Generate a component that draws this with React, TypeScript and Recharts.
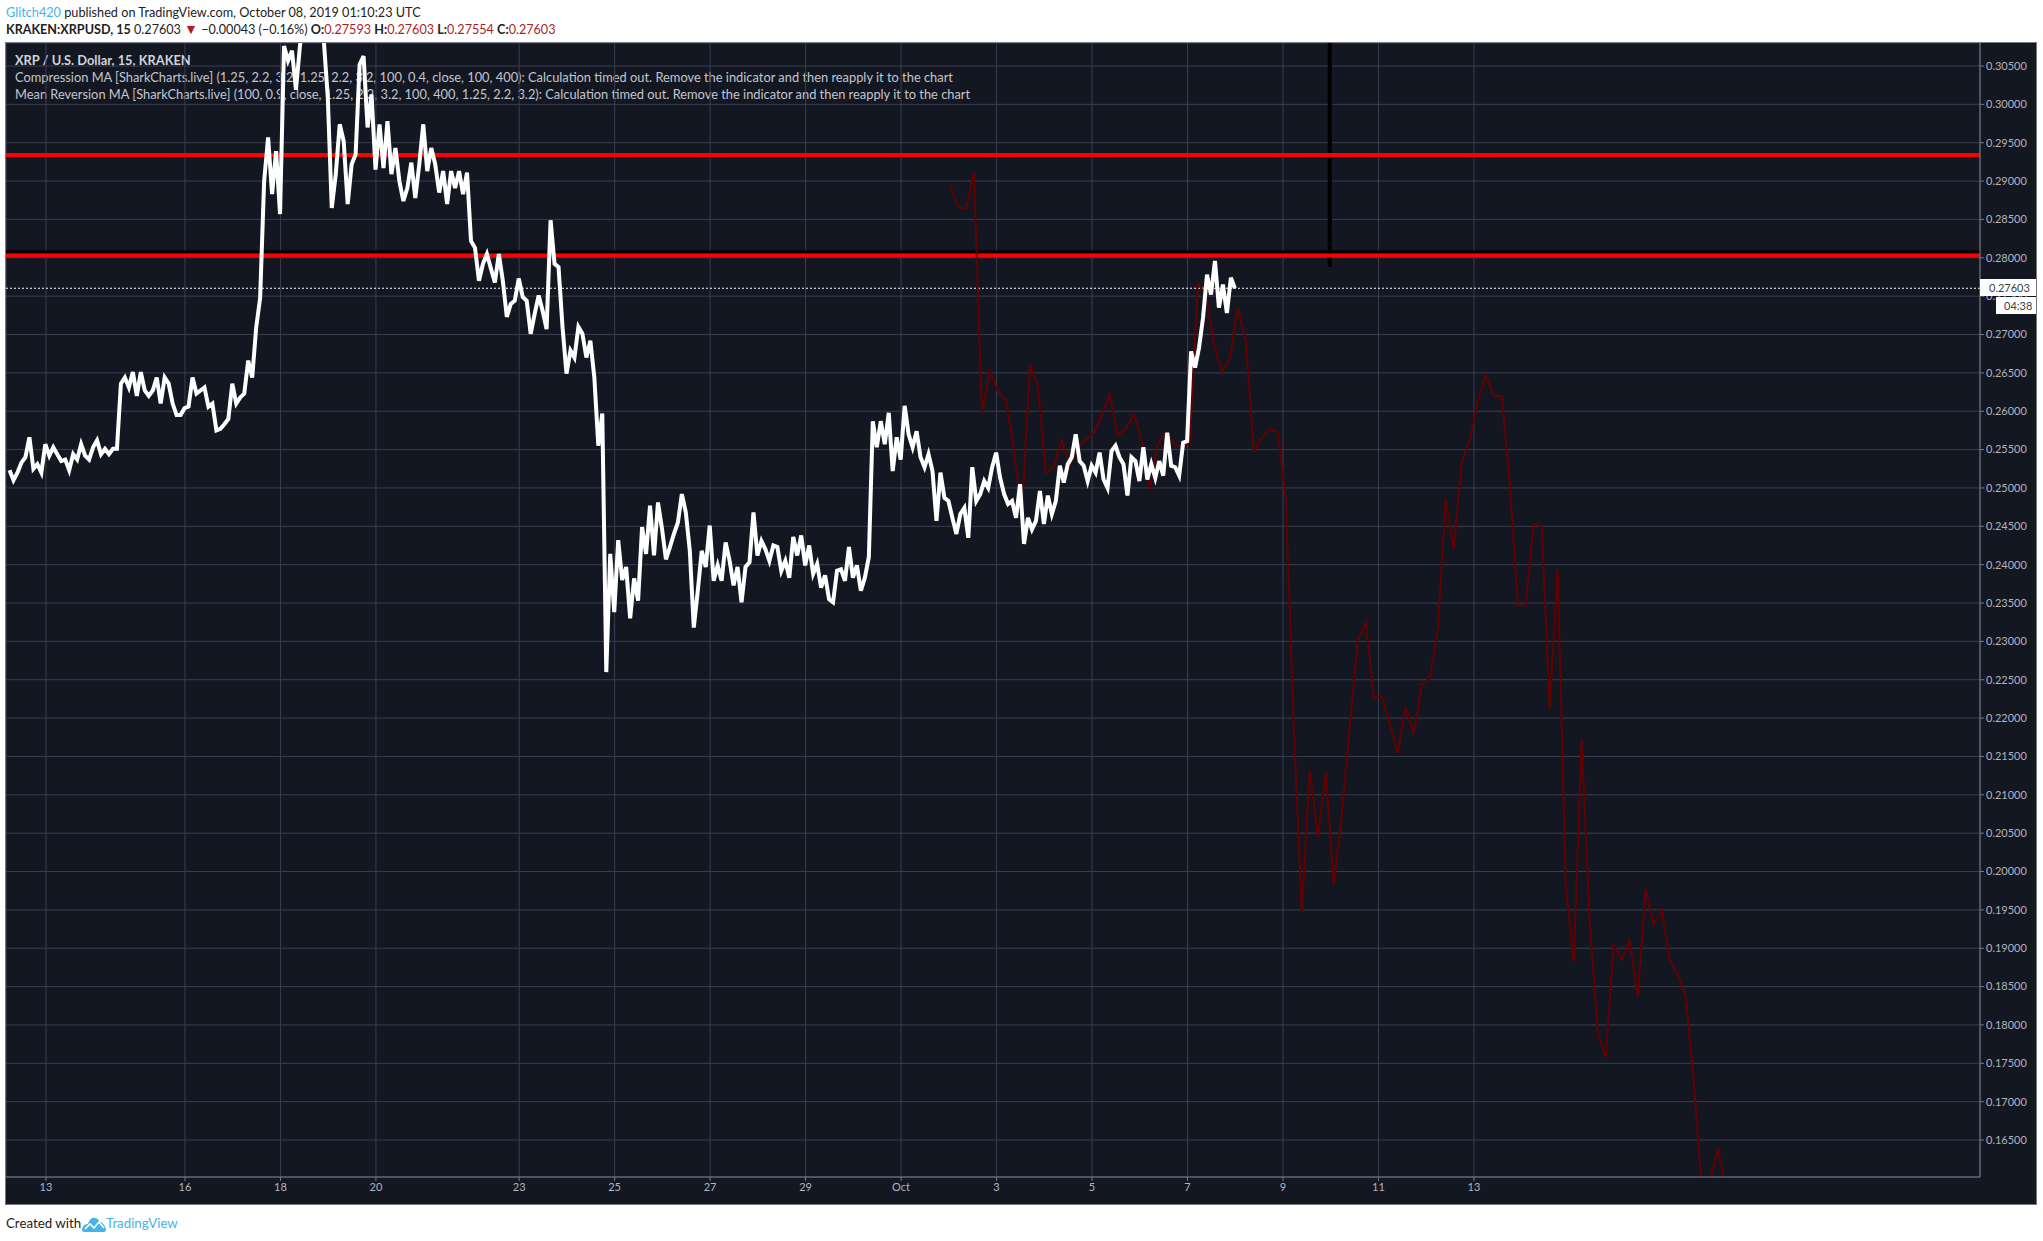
import React from 'react';
import {
  LineChart,
  Line,
  XAxis,
  YAxis,
  CartesianGrid,
  ReferenceLine } from
'recharts';

// 2h samples of XRPUSD
const priceStartDay = 12.325;
const priceStep = 1 / 12;
const priceValues = [
  0.2523, 0.2510, 0.2520, 0.2533, 0.2540, 0.2566, 0.2525, 0.2531, 0.2520, 0.2557,
  0.2542, 0.2553, 0.2544, 0.2535, 0.2537, 0.2523, 0.2544, 0.2537, 0.2557, 0.2542,
  0.2537, 0.2553, 0.2562, 0.2544, 0.2551, 0.2544, 0.2551, 0.2551, 0.2636, 0.2644,
  0.2631, 0.2651, 0.2620, 0.2651, 0.2627, 0.2620, 0.2627, 0.2644, 0.2610, 0.2644,
  0.2636, 0.2610, 0.2595, 0.2595, 0.2604, 0.2606, 0.2644, 0.2623, 0.2627, 0.2631,
  0.2606, 0.2610, 0.2575, 0.2577, 0.2583, 0.2590, 0.2636, 0.2610, 0.2618, 0.2623,
  0.2666, 0.2644, 0.2709, 0.2748, 0.2900, 0.2957, 0.2883, 0.2939, 0.2857, 0.3076,
  0.3057, 0.3070, 0.3019, 0.3076, 0.3110, 0.3150, 0.3170, 0.3140, 0.3100, 0.3083,
  0.3009, 0.2865, 0.2909, 0.2974, 0.2952, 0.2870, 0.2922, 0.2935, 0.3052, 0.3063,
  0.2970, 0.3013, 0.2915, 0.2974, 0.2917, 0.2978, 0.2909, 0.2943, 0.2900, 0.2874,
  0.2891, 0.2924, 0.2878, 0.2922, 0.2974, 0.2913, 0.2943, 0.2922, 0.2885, 0.2913,
  0.2870, 0.2913, 0.2891, 0.2913, 0.2883, 0.2911, 0.2822, 0.2813, 0.2770, 0.2792,
  0.2805, 0.2786, 0.2768, 0.2805, 0.2770, 0.2723, 0.2740, 0.2744, 0.2773, 0.2749,
  0.2744, 0.2701, 0.2727, 0.2751, 0.2731, 0.2707, 0.2849, 0.2792, 0.2788, 0.2710,
  0.2649, 0.2679, 0.2670, 0.2710, 0.2701, 0.2670, 0.2692, 0.2644, 0.2555, 0.2597,
  0.2260, 0.2414, 0.2338, 0.2432, 0.2380, 0.2397, 0.2330, 0.2382, 0.2353, 0.2449,
  0.2414, 0.2477, 0.2412, 0.2481, 0.2447, 0.2407, 0.2423, 0.2440, 0.2455, 0.2492,
  0.2468, 0.2418, 0.2318, 0.2366, 0.2418, 0.2397, 0.2451, 0.2379, 0.2399, 0.2379,
  0.2429, 0.2405, 0.2373, 0.2397, 0.2351, 0.2397, 0.2403, 0.2468, 0.2412, 0.2431,
  0.2420, 0.2405, 0.2425, 0.2423, 0.2392, 0.2405, 0.2383, 0.2436, 0.2412, 0.2438,
  0.2399, 0.2425, 0.2388, 0.2401, 0.2370, 0.2386, 0.2355, 0.2351, 0.2392, 0.2394,
  0.2379, 0.2423, 0.2383, 0.2399, 0.2366, 0.2383, 0.2410, 0.2587, 0.2553, 0.2587,
  0.2557, 0.2598, 0.2522, 0.2566, 0.2537, 0.2607, 0.2570, 0.2553, 0.2574, 0.2540,
  0.2527, 0.2544, 0.2522, 0.2457, 0.2520, 0.2487, 0.2483, 0.2461, 0.2440, 0.2466,
  0.2474, 0.2435, 0.2527, 0.2483, 0.2492, 0.2509, 0.2500, 0.2527, 0.2546, 0.2513,
  0.2492, 0.2479, 0.2483, 0.2461, 0.2505, 0.2427, 0.2461, 0.2446, 0.2457, 0.2496,
  0.2453, 0.2490, 0.2466, 0.2483, 0.2529, 0.2507, 0.2531, 0.2540, 0.2570, 0.2535,
  0.2529, 0.2509, 0.2529, 0.2520, 0.2546, 0.2511, 0.2500, 0.2548, 0.2555, 0.2540,
  0.2531, 0.2490, 0.2540, 0.2535, 0.2509, 0.2553, 0.2511, 0.2531, 0.2513, 0.2535,
  0.2516, 0.2572, 0.2529, 0.2527, 0.2516, 0.2559, 0.2561, 0.2678, 0.2657, 0.2683,
  0.2722, 0.2778, 0.2752, 0.2796, 0.2735, 0.2765, 0.2728, 0.2774, 0.27603];

// the dark red indicator, one point every 4h
const maStartDay = 32.024;
const maStep = 0.1675;
const maValues = [
  0.28949, 0.28662, 0.28636, 0.29105, 0.25977, 0.26525, 0.26251, 0.26147, 0.25495, 0.24674,
  0.26603, 0.26316, 0.25195, 0.25286, 0.25625, 0.25299, 0.25534, 0.25625, 0.25716, 0.25951,
  0.26212, 0.25677, 0.25782, 0.25951, 0.25625, 0.24986, 0.25560, 0.25729, 0.25573, 0.25534,
  0.25586, 0.27671, 0.27515, 0.26889, 0.26511, 0.26681, 0.27346, 0.26903, 0.25482, 0.25651,
  0.25768, 0.25730, 0.24856, 0.21884, 0.19473, 0.21317, 0.20444, 0.21291, 0.19825, 0.20744,
  0.21891, 0.23018, 0.23240, 0.22262, 0.22288, 0.21936, 0.21545, 0.22145, 0.21793, 0.22445,
  0.22510, 0.23162, 0.24856, 0.24204, 0.25332, 0.25625, 0.26133, 0.26465, 0.26199, 0.26199,
  0.25083, 0.23474, 0.23474, 0.24530, 0.24504, 0.22119, 0.23944, 0.19825, 0.18821, 0.21715,
  0.19348, 0.17909, 0.17570, 0.19043, 0.18847, 0.19095, 0.18378, 0.19773, 0.19303, 0.19499,
  0.18860, 0.18665, 0.18365, 0.17309, 0.15888, 0.15940, 0.16384, 0.15914];

const xTickDays = [13.088, 16, 18, 20, 23, 25, 27, 29, 31, 33, 35, 37, 39, 41, 43];
const xTickLabels = ['13', '16', '18', '20', '23', '25', '27', '29', 'Oct', '3', '5', '7', '9', '11', '13'];
const yTicks = [
  0.165, 0.17, 0.175, 0.18, 0.185, 0.19, 0.195, 0.2, 0.205, 0.21,
  0.215, 0.22, 0.225, 0.23, 0.235, 0.24, 0.245, 0.25, 0.255, 0.26,
  0.265, 0.27, 0.275, 0.28, 0.285, 0.29, 0.295, 0.3, 0.305];

const lastPrice = 0.27603;
const resistanceLevels = [0.2934, 0.2803];
const blackLevel = 0.2808;
const blackMarkerDay = 39.98;
const blackMarkerBottom = 0.2788;
const blackMarkerTop = 0.308;

const legendLines = [
  'Compression MA [SharkCharts.live] (1.25, 2.2, 3.2, 1.25, 2.2, 3.2, 100, 0.4, close, 100, 400): Calculation timed out. Remove the indicator and then reapply it to the chart',
  'Mean Reversion MA [SharkCharts.live] (100, 0.9, close, 1.25, 2.2, 3.2, 100, 400, 1.25, 2.2, 3.2): Calculation timed out. Remove the indicator and then reapply it to the chart'];

const priceData = priceValues.map((price, i) => ({ day: priceStartDay + i * priceStep, price }));
const maData = maValues.map((ma, i) => ({ day: maStartDay + i * maStep, ma }));

const font = 'Lato, "Open Sans", sans-serif';
const blue = '#45b4e6';
const dimRed = '#ad1e1e';

const abs = (left: number, top: number, extra: React.CSSProperties = {}): React.CSSProperties => ({
  position: 'absolute',
  left,
  top,
  whiteSpace: 'nowrap',
  ...extra
});

function Header() {
  return (
    <>
      <div style={abs(6, 4, { fontSize: 12.7, lineHeight: '16px', color: '#222' })}>
        <span style={{ color: blue }}>Glitch420</span> published on TradingView.com, October 08, 2019 01:10:23 UTC
      </div>
      <div style={abs(6, 22, { fontSize: 12.6, lineHeight: '16px', color: '#222' })}>
        <b>KRAKEN:XRPUSD, 15</b>{' '}0.27603{' '}
        <span style={{ color: dimRed, fontSize: 14, lineHeight: '14px' }}>▼</span>{' '}−0.00043 (−0.16%){' '}
        <b>O:</b><span style={{ color: dimRed }}>0.27593</span>{' '}
        <b>H:</b><span style={{ color: dimRed }}>0.27603</span>{' '}
        <b>L:</b><span style={{ color: dimRed }}>0.27554</span>{' '}
        <b>C:</b><span style={{ color: dimRed }}>0.27603</span>
      </div>
    </>);

}

function Footer() {
  return (
    <>
      <div style={abs(6, 1215, { fontSize: 13.3, lineHeight: '16px', color: '#222' })}>Created with</div>
      <svg style={abs(82, 1216)} width="24" height="16" viewBox="0 0 24 16">
        <path
          d="M0 13 C1 9 4 8 6 8 C7 4 10 1 13 2 C16 2 17 5 18 6 C21 6 23 10 24 13 C24 15 23 16 22 16 L2 16 C1 16 0 15 0 13 Z"
          fill={blue} />
        <path d="M3 13 L8 8 L12 12 L17 6 L22 12" fill="none" stroke="#fff" strokeWidth="1.6" />
      </svg>
      <div style={abs(106, 1215, { fontSize: 13.3, lineHeight: '16px', color: blue })}>TradingView</div>
    </>);

}

export default function App() {
  return (
    <div style={{ position: 'absolute', left: 0, top: 0, width: 2043, height: 1241, background: '#fff', fontFamily: font, overflow: 'hidden' }}>
      <Header />
      <div style={abs(6, 43, { width: 2030, height: 1161, background: '#131722', boxShadow: '0 0 0 1px #787b86' })} />
      <div style={abs(15, 52, { fontSize: 12.85, lineHeight: '17px', color: '#d1d4dc', fontWeight: 700 })}>
        XRP / U.S. Dollar, 15, KRAKEN
      </div>
      {legendLines.map((line, i) =>
      <div key={line} style={abs(15, 69 + i * 17, { fontSize: 12.85, lineHeight: '17px', color: '#c3c6ce' })}>{line}</div>
      )}
      <div style={abs(6, 43)}>
        <LineChart
          width={2030}
          height={1161}
          margin={{
            top: 0,
            right: 0,
            left: 0,
            bottom: 0
          }}>

          <CartesianGrid stroke="#3a3e50" strokeWidth={1} />
          <XAxis
            type="number"
            dataKey="day"
            domain={[12.2513, 53.6]}
            allowDataOverflow
            ticks={xTickDays}
            interval={0}
            height={27}
            tickSize={4}
            stroke="#787b86"
            tick={{ fill: '#b2b5be', fontSize: 11, fontFamily: font }}
            tickFormatter={(value) => xTickLabels[xTickDays.indexOf(value)]} />

          <YAxis
            orientation="right"
            type="number"
            domain={[0.16018, 0.308]}
            allowDataOverflow
            ticks={yTicks}
            interval={0}
            width={56}
            tickSize={4}
            stroke="#787b86"
            tick={{ fill: '#b2b5be', fontSize: 11, fontFamily: font }}
            tickFormatter={(value) => value.toFixed(5)} />

          <ReferenceLine y={blackLevel} stroke="#000" strokeWidth={3} />
          <ReferenceLine
            segment={[
            { x: blackMarkerDay, y: blackMarkerBottom },
            { x: blackMarkerDay, y: blackMarkerTop }]}
            stroke="#000"
            strokeWidth={4} />

          {resistanceLevels.map((level) =>
          <ReferenceLine key={level} y={level} stroke="#ff0000" strokeWidth={4} />
          )}
          <ReferenceLine y={lastPrice} stroke="#fff" strokeWidth={1} strokeDasharray="2 2" />
          <Line
            data={maData}
            dataKey="ma"
            type="linear"
            stroke="#640000"
            strokeWidth={2}
            dot={false}
            isAnimationActive={false} />

          <Line
            data={priceData}
            dataKey="price"
            type="linear"
            stroke="#ffffff"
            strokeWidth={4}
            dot={false}
            isAnimationActive={false} />

        </LineChart>
      </div>
      <div style={abs(1980, 279, { width: 56, height: 17, background: '#fff', color: '#3a3e4a', fontSize: 11, lineHeight: '17px', paddingLeft: 9, boxSizing: 'border-box' })}>
        0.27603
      </div>
      <div style={abs(1996, 297, { width: 40, height: 17, background: '#fff', color: '#3a3e4a', fontSize: 11, lineHeight: '17px', paddingLeft: 8, boxSizing: 'border-box' })}>
        04:38
      </div>
      <Footer />
    </div>);

}
